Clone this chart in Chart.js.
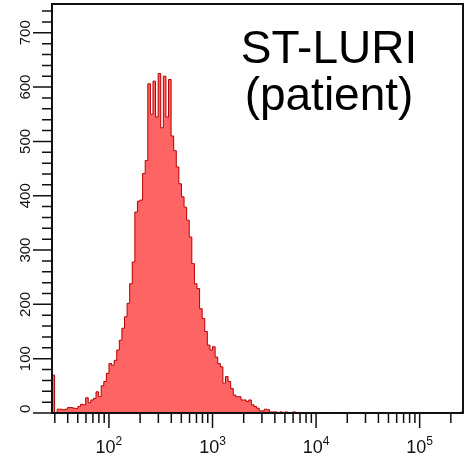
<!DOCTYPE html>
<html>
<head>
<meta charset="utf-8">
<script src="https://cdn.jsdelivr.net/npm/chart.js@4.4.1/dist/chart.umd.min.js"></script>
<style>
  html, body { margin: 0; padding: 0; background: #fff; }
  canvas { display: block; }
</style>
</head>
<body>
<canvas id="histo" width="470" height="459"></canvas>
<script>
// Histogram channels: log-spaced bins, 40 per decade, starting at X_MIN
const X_MIN = 28.2;
const X_MAX = 262143;
const BINS_PER_DECADE = 40;
const Y_MAX = 753;

// event counts per bin
const counts = [
  70, 1, 7, 7, 6, 7, 10, 10, 9, 8,
  12, 16, 15, 28, 19, 24, 27, 39, 30, 50,
  58, 73, 91, 88, 97, 116, 134, 156, 177, 202,
  238, 278, 370, 390, 392, 441, 465, 606, 550, 611,
  545, 625, 525, 620, 545, 614, 510, 483, 453, 422,
  398, 379, 355, 324, 275, 238, 229, 192, 174, 150,
  125, 116, 122, 103, 91, 85, 55, 67, 58, 45,
  33, 30, 30, 24, 24, 21, 24, 15, 12, 9,
  4, 4, 7, 6, 2, 2, 2, 1, 2, 1,
  2, 1, 1, 2, 1, 0, 0, 0, 1, 0,
  0, 0, 0, 0, 1, 0, 0, 1, 0, 0,
  0, 0, 0, 0, 0, 0, 0, 0, 0, 0,
  0, 0, 0, 0, 0, 0, 0, 0, 0, 0,
  0, 0, 0, 0, 0, 0, 0, 0, 0, 0,
  0, 0, 0, 0, 0, 0, 0, 0, 0, 0,
  0, 0, 0, 0, 0, 0, 0, 0, 2
];

// axis ticks
const yMajor = [0, 100, 200, 300, 400, 500, 600, 700];
const yMinor = [20, 40, 60, 80, 120, 140, 160, 180, 220, 240, 260, 280,
  320, 340, 360, 380, 420, 440, 460, 480, 520, 540, 560, 580,
  620, 640, 660, 680, 720, 740];
const xMajor = [100, 1000, 10000, 100000];
const xExponents = ['2', '3', '4', '5'];
const xMinor = [30, 40, 50, 60, 70, 80, 90,
  200, 300, 400, 500, 600, 700, 800, 900,
  2000, 3000, 4000, 5000, 6000, 7000, 8000, 9000,
  20000, 30000, 40000, 50000, 60000, 70000, 80000, 90000,
  200000];

const labelLines = ['ST-LURI', '(patient)'];

const logMin = Math.log10(X_MIN);
const points = counts.map((c, i) => ({ x: Math.pow(10, logMin + i / BINS_PER_DECADE), y: c }));
points.push({ x: X_MAX, y: counts[counts.length - 1] });

const FONT = '"Liberation Sans", Arial, sans-serif';

const axisDecor = {
  id: 'axisDecor',
  afterDatasetsDraw(chart) {
    const { ctx, chartArea: a, scales: { x, y } } = chart;
    ctx.save();
    ctx.strokeStyle = '#111';
    ctx.fillStyle = '#111';

    // frame
    ctx.lineWidth = 2;
    ctx.strokeRect(a.left, a.top, a.right - a.left, a.bottom - a.top);

    // tick marks
    ctx.lineWidth = 1.5;
    ctx.beginPath();
    yMinor.forEach(v => {
      const py = y.getPixelForValue(v);
      ctx.moveTo(a.left, py); ctx.lineTo(a.left - 10, py);
    });
    yMajor.forEach(v => {
      const py = y.getPixelForValue(v);
      ctx.moveTo(a.left, py); ctx.lineTo(a.left - 19, py);
    });
    xMinor.forEach(v => {
      const px = x.getPixelForValue(v);
      ctx.moveTo(px, a.bottom); ctx.lineTo(px, a.bottom + 10);
    });
    xMajor.forEach(v => {
      const px = x.getPixelForValue(v);
      ctx.moveTo(px, a.bottom); ctx.lineTo(px, a.bottom + 15);
    });
    ctx.stroke();

    // y labels, rotated
    ctx.font = '15px ' + FONT;
    ctx.textBaseline = 'middle';
    yMajor.forEach(v => {
      const py = y.getPixelForValue(v);
      const txt = String(v);
      const w = ctx.measureText(txt).width;
      ctx.save();
      ctx.translate(a.left - 26, py);
      ctx.rotate(-Math.PI / 2);
      if (py + w / 2 > a.bottom) {
        ctx.textAlign = 'left';
        ctx.fillText(txt, a.bottom - py, 0);
      } else {
        ctx.textAlign = 'center';
        ctx.fillText(txt, 0, 0);
      }
      ctx.restore();
    });

    // x labels: 10 with superscript exponent
    ctx.textAlign = 'left';
    ctx.textBaseline = 'alphabetic';
    xMajor.forEach((v, i) => {
      const px = x.getPixelForValue(v);
      ctx.font = '18px ' + FONT;
      const wBase = ctx.measureText('10').width;
      ctx.font = '12px ' + FONT;
      const wExp = ctx.measureText(xExponents[i]).width;
      const start = px - (wBase + wExp) / 2;
      ctx.font = '18px ' + FONT;
      ctx.fillText('10', start, a.bottom + 40);
      ctx.font = '12px ' + FONT;
      ctx.fillText(xExponents[i], start + wBase, a.bottom + 32);
    });

    // sample label
    ctx.fillStyle = '#000';
    ctx.font = '46px ' + FONT;
    ctx.textAlign = 'center';
    ctx.fillText(labelLines[0], a.right - 134, a.top + 59);
    ctx.fillText(labelLines[1], a.right - 134, a.top + 106);
    ctx.restore();
  }
};

new Chart(document.getElementById('histo').getContext('2d'), {
  type: 'line',
  data: {
    datasets: [{
      data: points,
      stepped: 'before',
      fill: 'origin',
      backgroundColor: '#ff6464',
      borderColor: '#b80000',
      borderWidth: 1,
      pointRadius: 0,
      tension: 0
    }]
  },
  options: {
    responsive: false,
    animation: false,
    layout: { padding: { left: 52, top: 4, right: 7, bottom: 46 } },
    plugins: {
      legend: { display: false },
      tooltip: { enabled: false }
    },
    scales: {
      x: { type: 'logarithmic', min: X_MIN, max: X_MAX, display: false },
      y: { type: 'linear', min: 0, max: Y_MAX, display: false }
    }
  },
  plugins: [axisDecor]
});
</script>
</body>
</html>
